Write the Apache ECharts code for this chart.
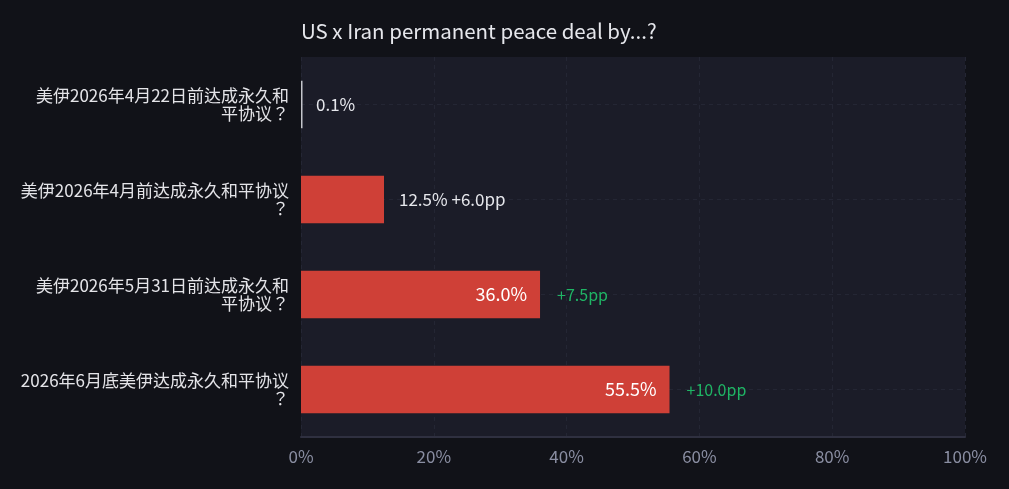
<!DOCTYPE html>
<html><head><meta charset="utf-8">
<script src="https://cdn.jsdelivr.net/npm/echarts@6/dist/echarts.min.js"></script>
<style>html,body{margin:0;padding:0;background:#111218;}#c{width:1009px;height:489px;}</style>
</head><body><div id="c"></div>
<script>
const categories = [
  "美伊2026年4月22日前达成永久和平协议？",
  "美伊2026年4月前达成永久和平协议？",
  "美伊2026年5月31日前达成永久和平协议？",
  "2026年6月底美伊达成永久和平协议？"
];
const values = [0.1, 12.5, 36.0, 55.5];
const deltas = ["", "+6.0pp", "+7.5pp", "+10.0pp"];
const xTicks = [0, 20, 40, 60, 80, 100];
const titleText = "US x Iran permanent peace deal by...?";

const FONT = "'Noto Sans CJK JP','Noto Sans CJK SC','Noto Sans',sans-serif";
const insideThreshold = 20;

function wrap(s){ const a=Array.from(s); let out=[]; for(let i=0;i<a.length;i+=18) out.push(a.slice(i,i+18).join('')); return out.join('\n'); }

const chart = echarts.init(document.getElementById('c'));
chart.setOption({
  backgroundColor: '#111218',
  animation: false,
  title: { text: titleText, left: 296, top: 16, textStyle: { color: '#e6e7ec', fontSize: 20.5, fontWeight: 'normal', fontFamily: FONT } },
  grid: { left: 301, right: 44, top: 57, bottom: 52, show: true, backgroundColor: '#1b1c28', borderWidth: 0, containLabel: false },
  xAxis: {
    type: 'value', min: 0, max: 100, interval: 20,
    axisLine: { show: true, lineStyle: { color: '#2f3040', width: 2 } },
    axisTick: { show: false },
    axisLabel: { color: '#8a8ea2', fontSize: 17, fontFamily: FONT, margin: 11, formatter: v => xTicks.includes(v) ? v + '%' : '' },
    splitLine: { show: true, lineStyle: { color: '#242634', type: [4, 4], width: 1 } }
  },
  yAxis: {
    type: 'category', data: categories, inverse: true,
    axisLine: { show: false }, axisTick: { show: false },
    axisLabel: { color: '#e4e4e8', fontSize: 17, fontFamily: FONT, margin: 12, lineHeight: 18, align: 'right', formatter: v => wrap(v) },
    splitLine: { show: false }
  },
  series: [
    {
      type: 'bar', barWidth: '50%', barMinHeight: 1.5,
      data: values.map((v, i) => ({
        value: v,
        itemStyle: { color: v < 1 ? '#c4c5cc' : '#cf4037' },
        label: v >= insideThreshold ? { position: 'insideRight', distance: 13 } : { position: 'right', distance: v < 1 ? 13.5 : 15 }
      })),
      label: {
        show: true, fontFamily: FONT,
        formatter: p => {
          const v = p.value.toFixed(1) + '%';
          if (p.value >= insideThreshold) return '{big|' + v + '}';
          return '{out|' + v + (deltas[p.dataIndex] ? ' ' + deltas[p.dataIndex] : '') + '}';
        },
        rich: { big: { color: '#ffffff', fontSize: 18, fontFamily: FONT }, out: { color: '#e6e7ec', fontSize: 17, fontFamily: FONT } }
      },
      z: 3
    },
    {
      type: 'bar', barWidth: '50%', barGap: '-100%',
      data: values,
      itemStyle: { color: 'rgba(0,0,0,0)' },
      label: {
        show: true, position: 'right', distance: 17, color: '#1fb565', fontSize: 16, fontFamily: FONT,
        formatter: p => p.value >= insideThreshold ? deltas[p.dataIndex] : ''
      },
      markLine: {
        silent: true, symbol: 'none', label: { show: false }, z: 1,
        lineStyle: { color: '#242634', type: [4, 4], width: 1 },
        data: categories.map(c => ({ yAxis: c }))
      },
      z: 1
    }
  ]
});
</script>
</body></html>
